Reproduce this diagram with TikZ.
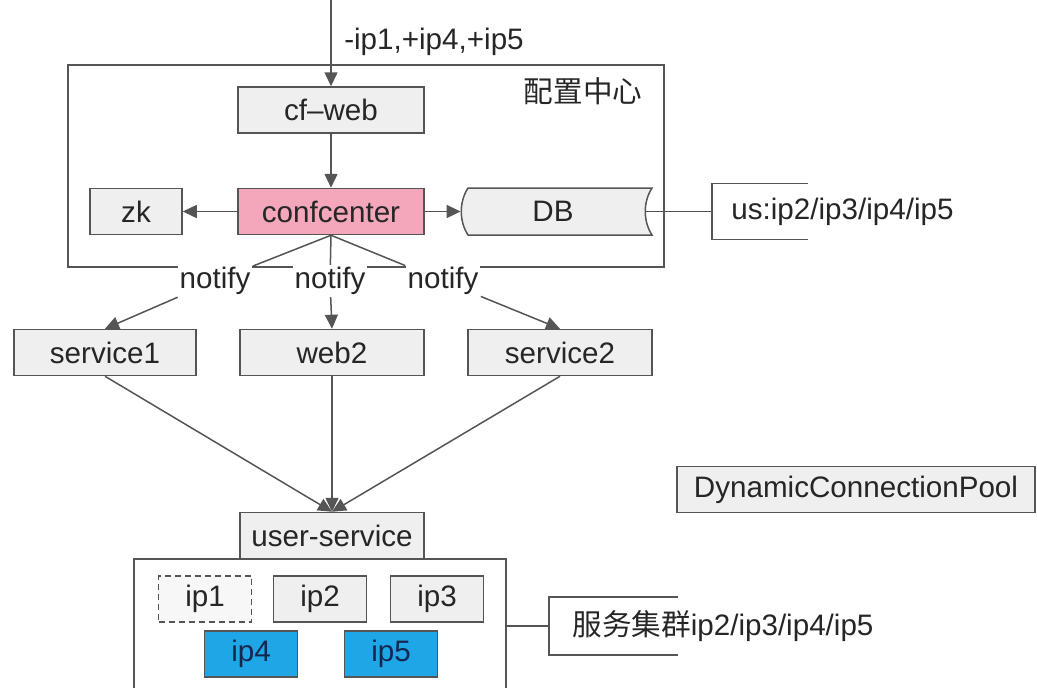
\documentclass[tikz,border=0pt]{standalone}
\usepackage{fontspec}
\setmainfont{Liberation Sans}
\newfontfamily\cjk{Noto Sans CJK SC}
\usetikzlibrary{arrows.meta}
\definecolor{linegray}{HTML}{555555}
\definecolor{boxgray}{HTML}{EFEFEF}
\definecolor{ccpink}{HTML}{F4A7BB}
\definecolor{ipblue}{HTML}{1EA6E6}
\definecolor{ipnavy}{HTML}{14284F}

\begin{document}
\begin{tikzpicture}
  [x=0.5pt,y=-0.5pt,
   every node/.style={font=\fontsize{14.8}{17}\selectfont,text=black!85},
   box/.style={draw=linegray,line width=0.75pt,fill=boxgray,minimum height=23pt,inner sep=2pt},
   ipbox/.style={box,minimum width=46.5pt},
   frame/.style={draw=linegray,line width=0.75pt,fill=white},
   tag/.style={fill=white,inner sep=1pt},
   note/.style={anchor=west,inner ysep=0pt},
   link/.style={draw=linegray,line width=0.75pt},
   arr/.style={link,-{Triangle[length=7pt,width=6.5pt]}}]
  \useasboundingbox (0,0) rectangle (1037,687);
  \clip (0,0) rectangle (1037,687);

  % config center
  \node[frame,minimum width=298pt,minimum height=101pt] (cfg) at (366,166) {};
  \node (cfgname) at (583,91) {\cjk 配置中心};
  \node[box,minimum width=93pt] (cfweb) at (331,110) {cf--web};
  \node[box,minimum width=93pt,fill=ccpink] (cc) at (331,211.5) {confcenter};
  \node[box,minimum width=46pt] (zk) at (136,211.5) {zk};
  \draw[link,fill=boxgray] (468,188) -- (652,188) .. controls (643,202) and (643,221) .. (652,235)
    -- (468,235) .. controls (459,221) and (459,202) .. cycle;
  \node[minimum width=92pt,minimum height=23.5pt,inner sep=0pt] (db) at (553,211.5) {DB};

  \coordinate (in) at (331,0);
  \draw[arr] (in) -- (cfweb.north);
  \node (delta) at (434,42) {-ip1,+ip4,+ip5};
  \draw[arr] (cfweb.south) -- (cc.north);
  \draw[arr] (cc) -- (zk);
  \draw[arr] (cc) -- (db);

  \node[note,minimum height=27.5pt,inner xsep=9.5pt] (usnote) at (712,211.5) {us:ip2/ip3/ip4/ip5};
  \draw[link] ([xshift=48pt]usnote.north west) -- (usnote.north west)
    -- (usnote.south west) -- ([xshift=48pt]usnote.south west);
  \draw[link] (db.east) -- (usnote.west);

  % notify
  \foreach \name/\x in {n1/215,n2/330,n3/443}
    \node[tag] (\name) at (\x,281) {notify};

  \node[box,minimum width=91pt] (s1) at (105,352.5) {service1};
  \node[box,minimum width=92pt] (web2) at (332,352.5) {web2};
  \node[box,minimum width=92pt] (s2) at (560,352.5) {service2};

  \foreach \lbl/\dst in {n1/s1,n2/web2,n3/s2}{
    \draw[link] (cc.south) -- (\lbl);
    \draw[arr] (\lbl) -- (\dst.north);
  }

  % user-service cluster
  \node[frame,minimum width=186pt,minimum height=67pt] (cluster) at (320,626) {};
  \node[box,minimum width=92pt] (us) at (332,535.5) {user-service};
  \foreach \src in {s1,web2,s2}
    \draw[arr] (\src.south) -- (us.north);

  \node[ipbox,fill=boxgray!50,dash pattern=on 3pt off 2pt] (ip1) at (205,599) {ip1};
  \node[ipbox] (ip2) at (320,599) {ip2};
  \node[ipbox] (ip3) at (437,599) {ip3};
  \node[ipbox,fill=ipblue,text=ipnavy] (ip4) at (251,654) {ip4};
  \node[ipbox,fill=ipblue,text=ipnavy] (ip5) at (391,654) {ip5};

  \node[note,minimum height=28.5pt,inner xsep=11.5pt] (svcnote) at (549,626) {{\cjk 服务集群}ip2/ip3/ip4/ip5};
  \draw[link] ([xshift=64.5pt]svcnote.north west) -- (svcnote.north west)
    -- (svcnote.south west) -- ([xshift=64.5pt]svcnote.south west);
  \draw[link] (cluster.east) -- (svcnote.west);

  \node[box,minimum width=179pt] (pool) at (856,489.5) {DynamicConnectionPool};

\end{tikzpicture}
\end{document}
